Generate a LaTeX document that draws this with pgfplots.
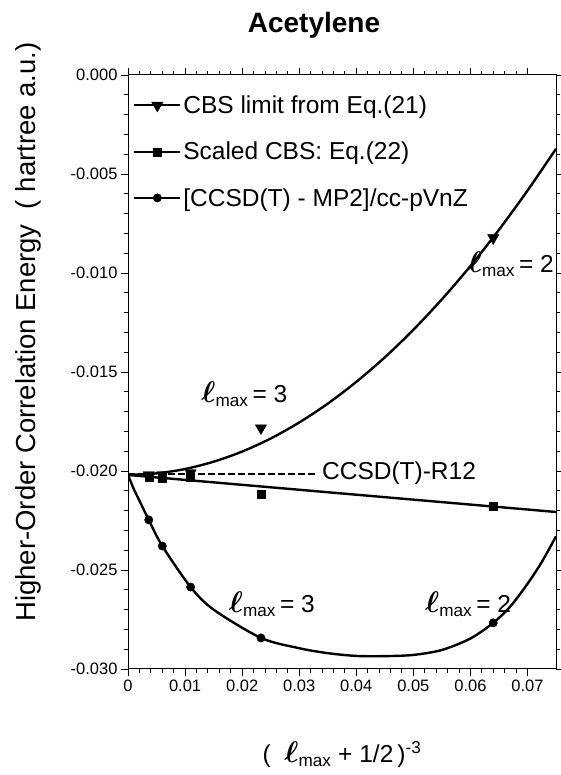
\documentclass[border=0pt]{standalone}
\usepackage{fontspec}
\setmainfont{Liberation Sans}
\usepackage{amsmath}
\usepackage{pgfplots}
\pgfplotsset{compat=1.18}

\newcommand{\bl}{\scalebox{1.2}{$\boldsymbol{\ell}$}}
\newcommand{\lm}[1]{\bl$_{\text{max}}$\,= #1}

\begin{document}
\begin{tikzpicture}[x=1pt,y=1pt]
\path[use as bounding box] (0,0) rectangle (561,775);
\begin{axis}[at={(128pt,106pt)}, anchor=south west, scale only axis,
    width=428pt, height=594pt,
    xmin=0, xmax=0.075, ymin=-0.030, ymax=0,
    xtick={0,0.01,0.02,0.03,0.04,0.05,0.06,0.07},
    ytick={-0.030,-0.025,-0.020,-0.015,-0.010,-0.005,0},
    minor x tick num=4, minor y tick num=4,
    tick align=outside, major tick length=7pt, minor tick length=4pt,
    every tick/.style={line width=0.9pt},
    scaled ticks=false,
    yticklabel style={/pgf/number format/.cd,fixed,fixed zerofill,precision=3},
    xticklabel style={/pgf/number format/fixed},
    /pgf/number format/assume math mode=true,
    tick label style={font=\fontsize{16.5}{16.5}\selectfont},
    axis line style={line width=1pt},
    legend style={at={(0.005,0.972)}, anchor=north west, draw=none, fill=none,
      font=\fontsize{24.5}{24.5}\selectfont, row sep=23pt, legend cell align=left},
    legend image code/.code={\draw[line width=2pt,black] (0pt,0pt)--(46pt,0pt);
      \draw[mark repeat=2,mark phase=2,#1] plot coordinates {(0pt,0pt)(23pt,0pt)(46pt,0pt)};},
  ]
  % fitted curves
  \addplot[black, line width=2.4pt, smooth, forget plot] coordinates {
    (0,-0.0202)(0.005,-0.02012)(0.01,-0.0199)(0.015,-0.01953)(0.02,-0.01902)
    (0.025,-0.01836)(0.03,-0.01755)(0.035,-0.0166)(0.04,-0.0155)(0.045,-0.01426)
    (0.05,-0.01287)(0.055,-0.01133)(0.06,-0.00965)(0.065,-0.00782)(0.07,-0.00584)(0.075,-0.00373)};
  \addplot[black, line width=2.4pt, forget plot] coordinates {(0,-0.0202)(0.075,-0.02207)};
  \addplot[black, line width=2.4pt, smooth, forget plot] coordinates {
    (0,-0.0202)(0.001,-0.0209)(0.002,-0.0215)(0.00364,-0.02247)(0.00601,-0.02379)
    (0.01097,-0.02586)(0.015,-0.0270)(0.0233,-0.02843)(0.03,-0.02895)(0.035,-0.0292)
    (0.04,-0.02934)(0.045,-0.02935)(0.05,-0.02929)(0.055,-0.02904)(0.06,-0.02846)
    (0.064,-0.02767)(0.067,-0.02684)(0.07,-0.0257)(0.0725,-0.0246)(0.075,-0.0233)};
  \addplot[black, line width=2.4pt, dash pattern=on 6.5pt off 3.5pt, forget plot]
    coordinates {(0,-0.02015)(0.0330,-0.02015)};
  % data points
  \addplot[black, only marks, mark=triangle*, mark size=6.5pt, mark options={rotate=180}]
    coordinates {(0.00364,-0.0202)(0.00601,-0.0202)(0.01097,-0.0201)(0.0233,-0.01783)(0.064,-0.00823)};
  \addlegendentry{CBS limit from Eq.(21)}
  \addplot[black, only marks, mark=square*, mark size=4pt]
    coordinates {(0.00364,-0.0203)(0.00601,-0.02035)(0.01097,-0.0203)(0.0233,-0.02116)(0.064,-0.02177)};
  \addlegendentry{Scaled CBS: Eq.(22)}
  \addplot[black, only marks, mark=*, mark size=4.2pt]
    coordinates {(0.00364,-0.02247)(0.00601,-0.02379)(0.01097,-0.02586)(0.0233,-0.02843)(0.064,-0.02767)};
  \addlegendentry{[CCSD(T) - MP2]/cc-pVnZ}
  % annotations
  \node[anchor=west, font=\fontsize{24.5}{24.5}\selectfont] at (axis cs:0.0334,-0.0201) {CCSD(T)-R12};
  \node[anchor=base, font=\fontsize{24.5}{24.5}\selectfont] at (axis cs:0.0204,-0.01656) {\lm{3}};
  \node[anchor=base, font=\fontsize{24.5}{24.5}\selectfont] at (axis cs:0.0671,-0.0100) {\lm{2}};
  \node[anchor=base, font=\fontsize{24.5}{24.5}\selectfont] at (axis cs:0.0252,-0.02717) {\lm{3}};
  \node[anchor=base, font=\fontsize{24.5}{24.5}\selectfont] at (axis cs:0.0596,-0.02717) {\lm{2}};
\end{axis}
\node[font=\fontsize{28}{28}\selectfont\bfseries] at (314,750) {Acetylene};
\node[rotate=90, font=\fontsize{27.5}{27.5}\selectfont] at (28,443) {Higher-Order Correlation Energy\ \ ( hartree a.u.)};
\node[font=\fontsize{24.5}{24.5}\selectfont] at (342,20) {(\ \ \bl$_{\text{max}}$ + 1/2\,)$^{\text{-3}}$};
\end{tikzpicture}
\end{document}
